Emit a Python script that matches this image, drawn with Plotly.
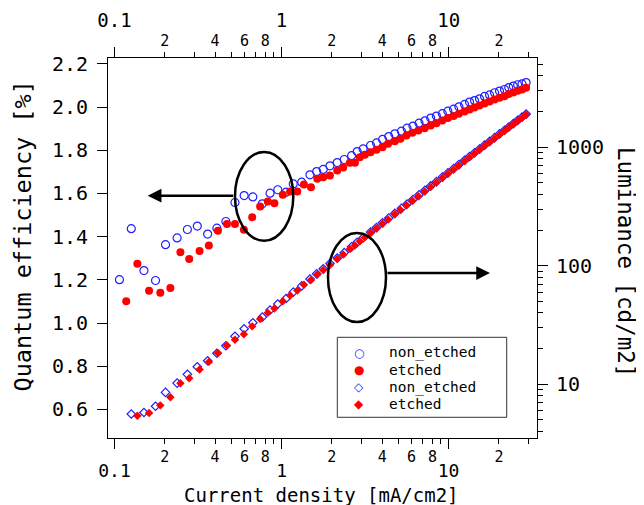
import plotly.graph_objects as go

# ---------------- data ----------------
j_non = [0.107, 0.126, 0.150, 0.176, 0.202, 0.237, 0.273, 0.313, 0.361, 0.410,
         0.464, 0.526, 0.597, 0.673, 0.767, 0.853, 0.949, 1.064, 1.175, 1.32,
         1.479, 1.622, 1.776, 1.948, 2.153, 2.371, 2.626, 2.835, 3.076, 3.41,
         3.70, 4.02, 4.38, 4.76, 5.22, 5.64, 6.12, 6.65, 7.22, 7.81,
         8.45, 9.17, 9.90, 10.71, 11.52, 12.46, 13.34, 14.29, 15.31, 16.40,
         17.58, 18.84, 20.16, 21.6, 22.9, 24.4, 25.9, 27.5, 29.1]
qe_non = [1.201, 1.437, 1.243, 1.197, 1.363, 1.394, 1.433, 1.449, 1.412, 1.439,
          1.470, 1.558, 1.590, 1.584, 1.552, 1.601, 1.617, 1.606, 1.644, 1.652,
          1.686, 1.701, 1.711, 1.728, 1.743, 1.757, 1.775, 1.794, 1.806, 1.822,
          1.834, 1.850, 1.863, 1.876, 1.888, 1.902, 1.912, 1.925, 1.936, 1.949,
          1.958, 1.969, 1.981, 1.990, 2.001, 2.012, 2.023, 2.030, 2.038, 2.049,
          2.056, 2.066, 2.074, 2.081, 2.090, 2.097, 2.103, 2.107, 2.113]
jl_non = j_non[1:]
lum_non = [5.61, 5.78, 6.53, 8.54, 10.24, 12.13, 14.06, 15.80, 18.29,
           21.14, 25.40, 29.43, 33.05, 36.90, 42.3, 47.6, 53.0, 59.9, 67.6,
           77.3, 85.5, 94.2, 104.4, 116.3, 129.1, 144.5, 157.7, 172.2, 192.6,
           210.4, 230.5, 253.0, 276.8, 305.5, 332.5, 362.7, 396.8, 433.3, 471.9,
           512.9, 559.7, 608.0, 660.7, 714.6, 777.2, 836.6, 899.3, 967.3, 1041.7,
           1120.5, 1206.6, 1296.2, 1393.4, 1483.7, 1586.2, 1688.5, 1796.2, 1906.1]

j_etch = [0.1175, 0.137, 0.161, 0.188, 0.216, 0.248, 0.280, 0.323, 0.367, 0.416,
          0.471, 0.526, 0.595, 0.667, 0.744, 0.827, 0.906, 1.017, 1.125, 1.242,
          1.361, 1.50, 1.636, 1.776, 1.948, 2.153, 2.339, 2.564, 2.748, 2.943,
          3.15, 3.41, 3.70, 4.02, 4.34, 4.76, 5.15, 5.59, 6.07, 6.59,
          7.19, 7.81, 8.45, 9.17, 9.90, 10.71, 11.52, 12.46, 13.34, 14.29,
          15.31, 16.40, 17.58, 18.84, 20.16, 21.6, 22.9, 24.4, 25.9, 27.5, 29.1]
qe_etch = [1.101, 1.275, 1.149, 1.140, 1.162, 1.328, 1.297, 1.333, 1.359, 1.427,
           1.458, 1.458, 1.432, 1.490, 1.539, 1.563, 1.555, 1.594, 1.609, 1.609,
           1.641, 1.629, 1.668, 1.675, 1.683, 1.706, 1.720, 1.742, 1.742, 1.768,
           1.779, 1.791, 1.802, 1.814, 1.830, 1.842, 1.853, 1.868, 1.881, 1.891,
           1.902, 1.914, 1.925, 1.938, 1.949, 1.958, 1.969, 1.979, 1.988, 1.998,
           2.007, 2.016, 2.025, 2.035, 2.043, 2.050, 2.060, 2.067, 2.075, 2.081, 2.089]
jl_etch = j_etch[1:]
lum_etch = [5.42, 5.73, 6.64, 7.78, 10.21, 11.26, 13.35, 15.46, 18.40,
            21.29, 23.77, 26.41, 30.81, 35.50, 40.07, 43.67, 50.25, 56.11, 61.95,
            69.24, 75.75, 84.59, 92.22, 101.6, 113.9, 124.7, 138.5, 148.4, 161.3,
            173.7, 189.3, 206.7, 226.1, 246.2, 271.8, 295.8, 323.7, 353.9, 386.3,
            423.9, 463.4, 504.3, 550.9, 598.1, 650.1, 703.2, 764.4, 822.1, 885.1,
            952.5, 1024.9, 1103.6, 1188.5, 1276.8, 1372.7, 1462.4, 1563.5, 1666.0, 1774.1, 1884.5]

x_major_vals = [0.1, 1, 10]
x_major_text = ["0.1", "1", "10"]
x_minor_vals = [0.2, 0.3, 0.4, 0.5, 0.6, 0.7, 0.8, 0.9,
                2, 3, 4, 5, 6, 7, 8, 9, 20, 30]
x_minor_text = ["2", "", "4", "", "6", "", "8", "",
                "2", "", "4", "", "6", "", "8", "", "2", ""]
yl_vals = [0.6, 0.8, 1.0, 1.2, 1.4, 1.6, 1.8, 2.0, 2.2]
yr_major = [10, 100, 1000]
yr_minor = [4, 5, 6, 7, 8, 9, 20, 30, 40, 50, 60, 70, 80, 90,
            200, 300, 400, 500, 600, 700, 800, 900, 2000, 3000, 4000, 5000]

BLUE = "#1f1fff"
RED = "#ff0000"
MONO = "DejaVu Sans Mono"

fig = go.Figure()
fig.add_trace(go.Scatter(x=j_non, y=qe_non, mode="markers", name="non_etched",
                         marker=dict(symbol="circle-open", size=8, color=BLUE, line=dict(width=1.2, color=BLUE))))
fig.add_trace(go.Scatter(x=j_etch, y=qe_etch, mode="markers", name="etched",
                         marker=dict(symbol="circle", size=8, color=RED)))
fig.add_trace(go.Scatter(x=jl_non, y=lum_non, mode="markers", name="non_etched", yaxis="y2",
                         marker=dict(symbol="diamond-open", size=6.5, color=BLUE, line=dict(width=1.2, color=BLUE))))
fig.add_trace(go.Scatter(x=jl_etch, y=lum_etch, mode="markers", name="etched", yaxis="y2",
                         marker=dict(symbol="diamond", size=6.5, color=RED)))
# invisible carriers so that the extra (overlaid) x axes get drawn
for ax_id in ("x2", "x3", "x4"):
    fig.add_trace(go.Scatter(x=j_non, y=qe_non, mode="markers", xaxis=ax_id, yaxis="y",
                             marker=dict(opacity=0), hoverinfo="skip", showlegend=False))

XR = [-1.039, 1.529]
common_x = dict(type="log", range=XR, showgrid=False, zeroline=False, automargin=False,
                linecolor="black", linewidth=1, tickcolor="black", tickwidth=1)

# the page body adds an 8 px offset, so the figure is 8 px smaller than the window
fig.update_layout(
    width=636, height=497,
    margin=dict(l=100, r=107, t=50, b=67),
    paper_bgcolor="white", plot_bgcolor="white",
    showlegend=False,
    font=dict(family=MONO, color="black"),
    xaxis=dict(**common_x, showline=True, ticks="outside", ticklen=5,
               tickmode="array", tickvals=x_minor_vals, ticktext=x_minor_text,
               tickfont=dict(family=MONO, size=15)),
    xaxis3=dict(**common_x, overlaying="x", side="bottom", anchor="y", showline=False,
                ticks="outside", ticklen=10, tickmode="array",
                tickvals=x_major_vals, ticktext=x_major_text,
                tickfont=dict(family=MONO, size=18), ticklabelstandoff=6),
    xaxis2=dict(**common_x, overlaying="x", side="top", anchor="y", showline=True,
                ticks="outside", ticklen=5, tickmode="array",
                tickvals=x_minor_vals, ticktext=x_minor_text,
                tickfont=dict(family=MONO, size=15)),
    xaxis4=dict(**common_x, overlaying="x", side="top", anchor="y", showline=False,
                ticks="outside", ticklen=10, tickmode="array",
                tickvals=x_major_vals, ticktext=x_major_text,
                tickfont=dict(family=MONO, size=19), ticklabelstandoff=12),
    yaxis=dict(range=[0.468, 2.2269], showgrid=False, zeroline=False, showline=True,
               automargin=False,
               linecolor="black", linewidth=1, ticks="outside", ticklen=10,
               tickcolor="black", tickmode="array", tickvals=yl_vals,
               tickformat=".1f", tickfont=dict(family=MONO, size=20),
               ticklabelstandoff=5),
    yaxis2=dict(type="log", range=[0.5468, 3.7536], overlaying="y", side="right",
                anchor="x", showgrid=False, zeroline=False, showline=True,
                automargin=False,
                linecolor="black", linewidth=1, ticks="outside", ticklen=10,
                tickcolor="black", tickmode="array", tickvals=yr_major,
                ticktext=[str(v) for v in yr_major],
                tickfont=dict(family=MONO, size=20), ticklabelstandoff=4,
                minor=dict(tickmode="array", tickvals=yr_minor, ticks="outside",
                           ticklen=5, tickcolor="black")),
)

# axis titles
fig.add_annotation(text="Quantum efficiency [%]", xref="paper", yref="paper",
                   x=-0.197, y=0.5316, xanchor="center", yanchor="middle",
                   textangle=-90, showarrow=False, font=dict(family=MONO, size=23.5))
fig.add_annotation(text="Luminance [cd/m2]", xref="paper", yref="paper",
                   x=1.2075, y=0.463, xanchor="center", yanchor="middle",
                   textangle=90, showarrow=False, font=dict(family=MONO, size=22.5))
fig.add_annotation(text="Current density [mA/cm2]", xref="paper", yref="paper",
                   x=0.4988, y=-0.1500, xanchor="center", yanchor="middle",
                   showarrow=False, font=dict(family=MONO, size=19))

# ellipses and arrows
fig.add_shape(type="circle", xref="paper", yref="paper",
              x0=0.2960, x1=0.4319, y0=0.5192, y1=0.7526,
              line=dict(color="black", width=2.5))
fig.add_shape(type="circle", xref="paper", yref="paper",
              x0=0.5128, x1=0.6480, y0=0.3053, y1=0.5395,
              line=dict(color="black", width=2.5))
fig.add_annotation(x=0.0925, y=0.6376, xref="paper", yref="paper", text="",
                   showarrow=True, ax=87, ay=0, axref="pixel", ayref="pixel",
                   arrowhead=2, arrowsize=1.1, arrowwidth=2.5, arrowcolor="black",
                   standoff=0, startstandoff=0)
fig.add_annotation(x=0.8904, y=0.4342, xref="paper", yref="paper", text="",
                   showarrow=True, ax=-104, ay=0, axref="pixel", ayref="pixel",
                   arrowhead=2, arrowsize=1.1, arrowwidth=2.5, arrowcolor="black",
                   standoff=0, startstandoff=0)

# legend box (drawn manually to match the compact reference legend)
fig.add_shape(type="rect", xref="paper", yref="paper",
              x0=0.5345, x1=0.9294, y0=0.0545, y1=0.265,
              line=dict(color="#333333", width=1), fillcolor="white", layer="above")
legend_rows = [("○", BLUE, "non_etched", 0.2250),
               ("●", RED, "etched", 0.1795),
               ("◇", BLUE, "non_etched", 0.1339),
               ("◆", RED, "etched", 0.0884)]
for sym, col, label, yy in legend_rows:
    fig.add_annotation(text=sym, xref="paper", yref="paper", x=0.5851, y=yy,
                       xanchor="center", yanchor="middle", showarrow=False,
                       font=dict(family="DejaVu Sans", size=12, color=col))
    fig.add_annotation(text=label, xref="paper", yref="paper", x=0.6497, y=yy,
                       xanchor="left", yanchor="middle", showarrow=False,
                       font=dict(family=MONO, size=14.5, color="black"))

fig.write_html("out.html")
